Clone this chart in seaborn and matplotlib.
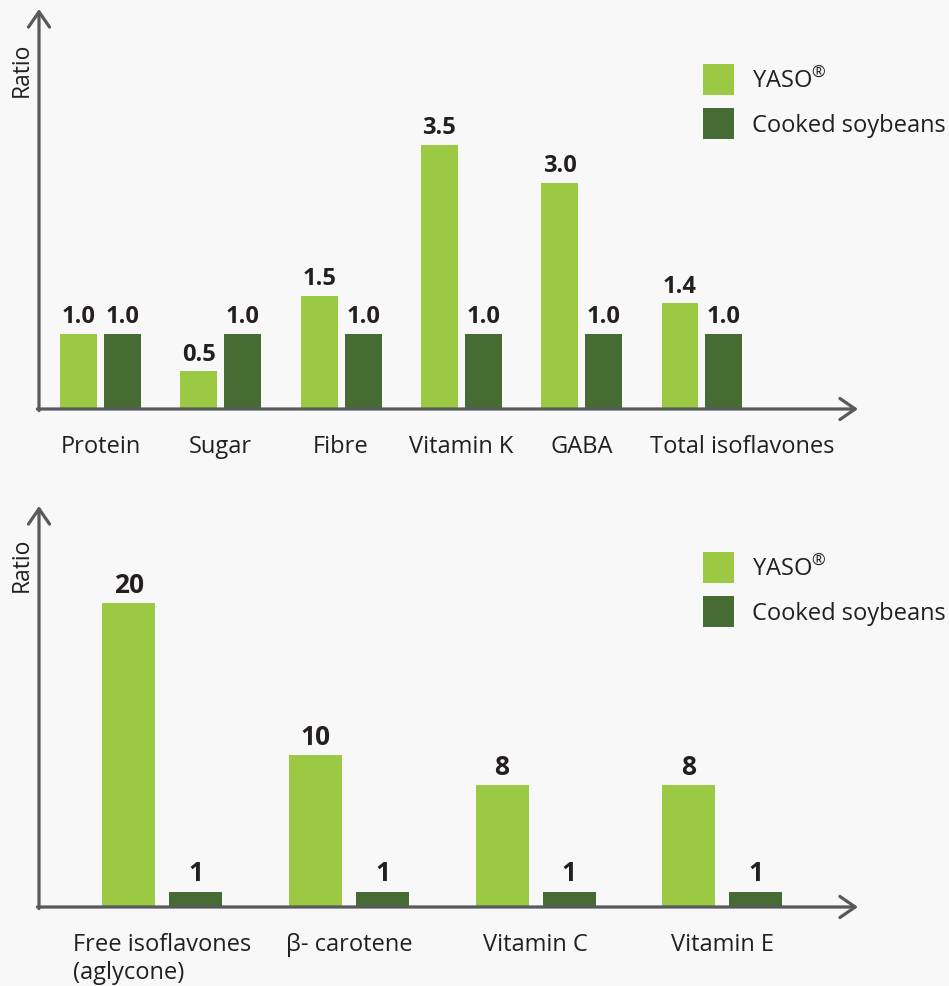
import pandas as pd
import seaborn as sns
import matplotlib.pyplot as plt
from matplotlib.transforms import ScaledTranslation

sns.set_theme(style="white")
plt.rcParams['font.family'] = ['Open Sans', 'DejaVu Sans']
plt.rcParams['mathtext.fontset'] = 'custom'
plt.rcParams['mathtext.rm'] = 'Open Sans'

groups = ['YASO$^{\\mathrm{®}}$', 'Cooked soybeans']
top_cats = ['Protein', 'Sugar', 'Fibre', 'Vitamin K', 'GABA', 'Total isoflavones']
top_yaso = [1.0, 0.5, 1.5, 3.5, 3.0, 1.4]
top_cooked = [1.0, 1.0, 1.0, 1.0, 1.0, 1.0]
bot_cats = ['Free isoflavones\n(aglycone)', 'β- carotene', 'Vitamin C', 'Vitamin E']
bot_yaso = [20, 10, 8, 8]
bot_cooked = [1, 1, 1, 1]

light = '#9bc943'
dark = '#476c33'
axis_col = '#58595b'
text_col = '#231f20'
bg = '#f8f8f8'

W, H = 949, 987
fig = plt.figure(figsize=(W / 100, H / 100), dpi=100, facecolor=bg)


def rect(x0, y0, x1, y1):
    # pixel box measured from the top-left corner -> figure fraction
    return [x0 / W, 1 - y1 / H, (x1 - x0) / W, (y1 - y0) / H]


def panel(box, cats, yaso, cooked, ylim, xlim, width, gap, fmt, valsize, leg_xy, ratio_y):
    ax = fig.add_axes(rect(*box))
    ax.set_facecolor('none')
    df = pd.DataFrame({
        'cat': cats + cats,
        'grp': [groups[0]] * len(cats) + [groups[1]] * len(cats),
        'val': yaso + cooked,
    })
    sns.barplot(data=df, x='cat', y='val', hue='grp', palette=[light, dark],
                width=width, gap=gap, saturation=1, linewidth=0, ax=ax)
    ax.set_ylim(*ylim)
    ax.set_xlim(*xlim)
    for c in ax.containers:
        ax.bar_label(c, labels=[fmt.format(v) for v in c.datavalues], padding=4,
                     fontsize=valsize, fontweight='bold', color=text_col)
    for s in ax.spines.values():
        s.set_visible(False)
    ax.set_yticks([])
    ax.set_xlabel('')
    ax.set_ylabel('')
    ax.tick_params(axis='x', length=0, pad=18, labelsize=17, labelcolor=text_col)
    arrow = dict(arrowstyle='->,head_length=0.55,head_width=0.38', lw=2.3,
                 color=axis_col, mutation_scale=20, shrinkA=0, shrinkB=0)
    ax.annotate('', xy=(1, 0), xytext=(-0.002, 0), xycoords='axes fraction',
                arrowprops=arrow, annotation_clip=False)
    ax.annotate('', xy=(0, 1), xytext=(0, -0.004), xycoords='axes fraction',
                arrowprops=arrow, annotation_clip=False)
    h, l = ax.get_legend_handles_labels()
    ax.legend(h, l, loc='upper left', bbox_to_anchor=(leg_xy[0] / W, 1 - leg_xy[1] / H),
              bbox_transform=fig.transFigure, frameon=False, fontsize=17,
              borderpad=0, borderaxespad=0, handlelength=1.31, handleheight=1.64,
              labelspacing=0.55, handletextpad=0.76, labelcolor=text_col)
    fig.text(22 / W, 1 - ratio_y / H, 'Ratio', rotation=90, ha='center', va='center',
             fontsize=16.5, color=text_col)
    return ax


top = panel((39, 10, 858, 410), top_cats, top_yaso, top_cooked, (0, 5.3), (-0.511, 6.297),
            0.731, 0.16, '{:.1f}', 17, (703, 65), 70)
bot = panel((39, 507, 858, 908), bot_cats, bot_yaso, bot_cooked, (0, 26.4), (-0.66, 3.727),
            0.718, 0.21, '{:.0f}', 19, (703, 553), 565)

lab = top.get_xticklabels()[-1]
lab.set_transform(lab.get_transform() + ScaledTranslation(0.4, 0, fig.dpi_scale_trans))
bot.get_xticklabels()[0].set_multialignment('left')

fig.savefig('out.png', dpi=100, facecolor=bg)
